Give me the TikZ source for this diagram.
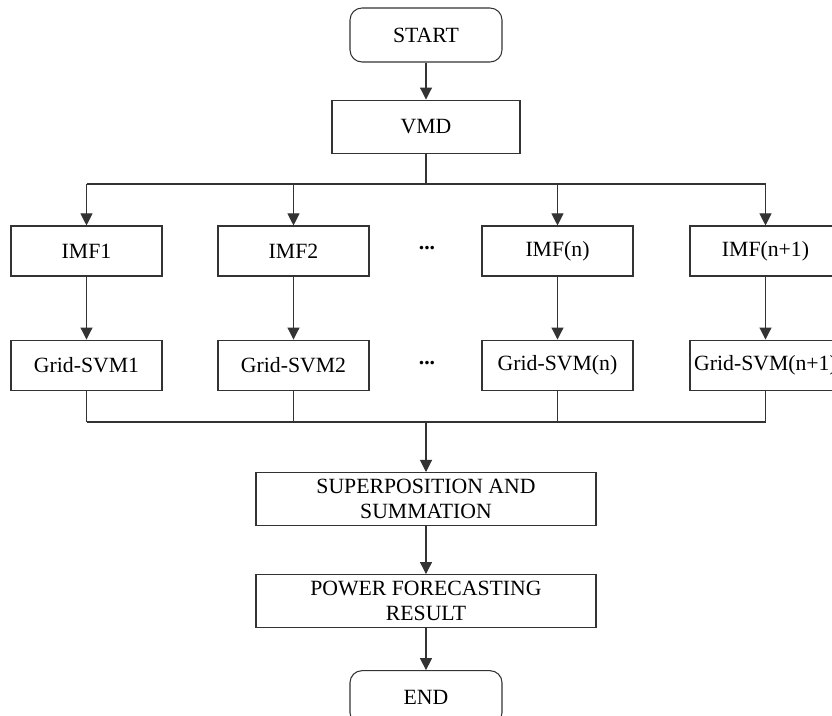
\documentclass[tikz,border=0pt]{standalone}
\usepackage{fontspec}
\setmainfont{Liberation Serif}
\usetikzlibrary{arrows.meta, positioning}

\tikzset{
  box/.style={draw=black!80, line width=0.8pt, minimum width=113.25pt, minimum height=37.5pt,
    inner sep=1pt, align=center, font=\fontsize{16.3}{19}\selectfont},
  term/.style={box, rounded corners=9pt, minimum width=114pt, minimum height=40.5pt},
  wide/.style={box, minimum width=255pt, minimum height=39.75pt},
  line/.style={draw=black!80, line width=0.8pt},
  arrow/.style={line, -{Triangle[width=9pt,length=9pt]}},
  gap/.style={font=\fontsize{16.3}{19}\selectfont\bfseries, anchor=base, inner sep=0pt}
}

\begin{document}
\begin{tikzpicture}[x=0.75pt, y=-0.75pt]
\useasboundingbox (0,0) rectangle (832,716);

%start
\node[term] (start) at (426,35) {START};
%vmd
\node[box, minimum width=141pt, minimum height=39.75pt, below=27.75pt of start] (vmd) {VMD};

%imf
\node[box] (imf1) at (86.5,251) {IMF1};
\node[box] (imf2) at (293.5,251) {IMF2};
\node[box] (imfn) at (557.5,251) {IMF(n)};
\node[box] (imfn1) at (765.5,251) {IMF(n+1)};
\node[gap] (dots1) at (427,250) {...};

%svm
\node[box, below=47.25pt of imf1] (svm1) {Grid-SVM1};
\node[box, below=47.25pt of imf2] (svm2) {Grid-SVM2};
\node[box, below=47.25pt of imfn] (svmn) {Grid-SVM(n)};
\node[box, below=47.25pt of imfn1] (svmn1) {Grid-SVM(n+1)};
\node[gap] (dots2) at (427,365) {...};

\coordinate (split) at (426,184);
\coordinate (join) at (426,422);

%sum
\node[wide, below=37.5pt of join] (sup) {SUPERPOSITION AND\\SUMMATION};
%result
\node[wide, below=36pt of sup] (res) {POWER FORECASTING\\RESULT};
%end
\node[term, below=31.5pt of res] (stop) {END};

\draw[arrow] (start) -- (vmd);
\draw[line] (vmd) -- (split);
\draw[line] (split -| imf1) -- (split -| imfn1);
\foreach \n in {imf1,imf2,imfn,imfn1}
  \draw[arrow] (split -| \n) -- (\n);

\draw[arrow] (imf1) -- (svm1);
\draw[arrow] (imf2) -- (svm2);
\draw[arrow] (imfn) -- (svmn);
\draw[arrow] (imfn1) -- (svmn1);

\foreach \n in {svm1,svm2,svmn,svmn1}
  \draw[line] (\n) -- (join -| \n);
\draw[line] (join -| svm1) -- (join -| svmn1);

\draw[arrow] (join) -- (sup);
\draw[arrow] (sup) -- (res);
\draw[arrow] (res) -- (stop);

\end{tikzpicture}
\end{document}
